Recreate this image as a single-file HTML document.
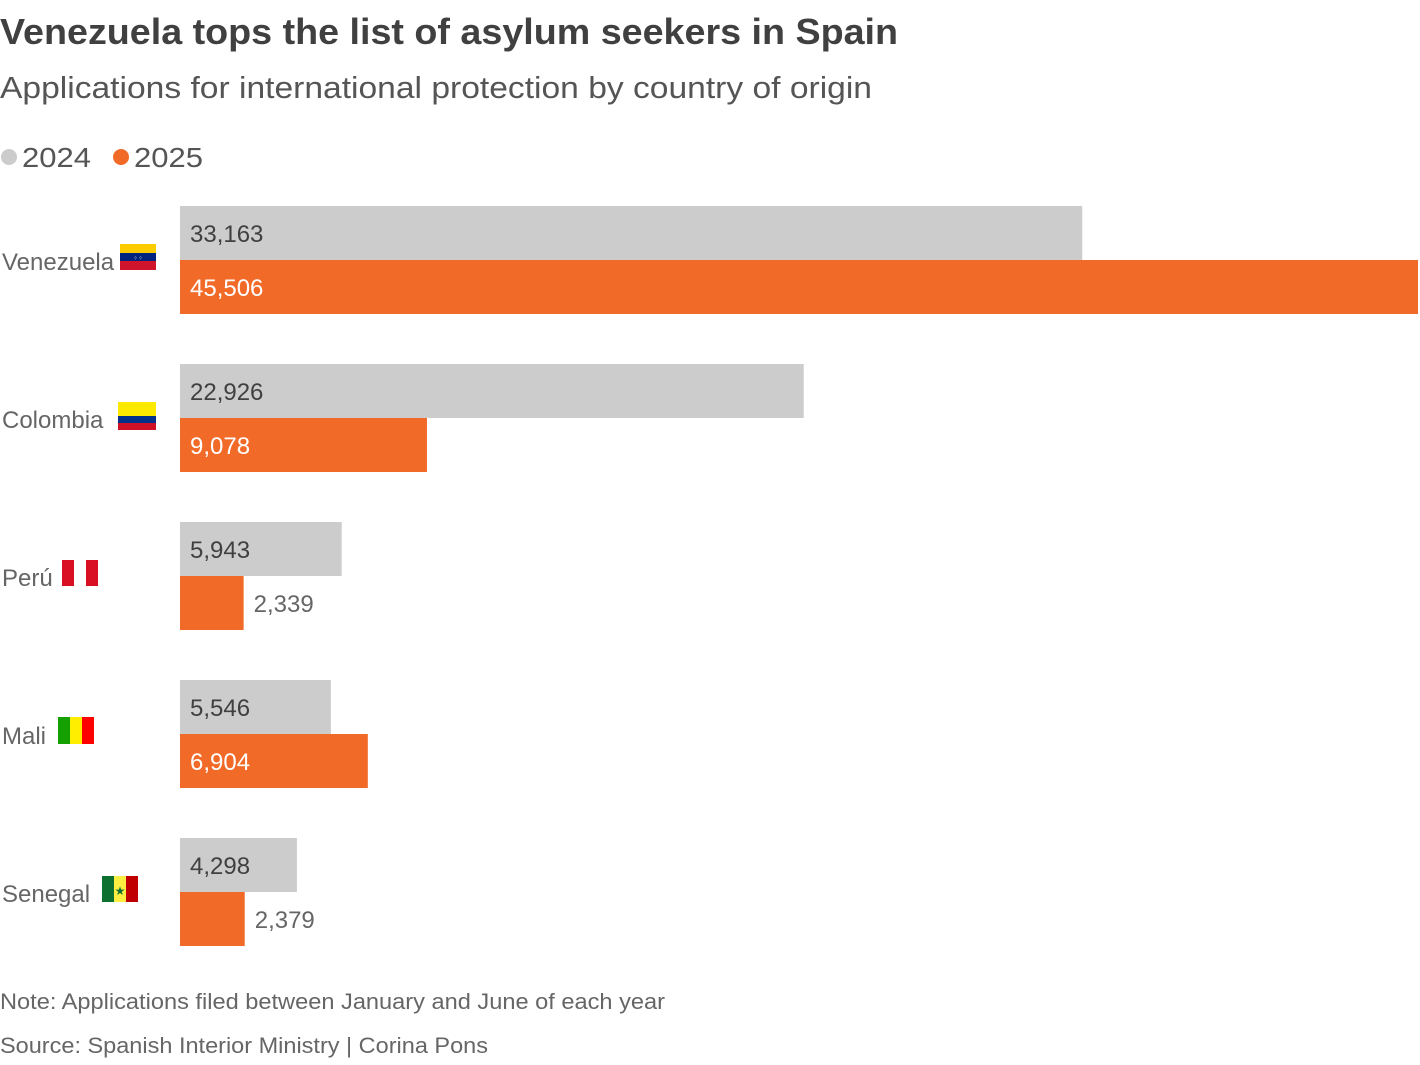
<!DOCTYPE html>
<html><head><meta charset="utf-8"><style>
body{margin:0;background:#fff;width:1420px;height:1060px;overflow:hidden;font-family:"Liberation Sans",sans-serif;}
svg text{font-family:"Liberation Sans",sans-serif;}
</style></head><body>
<svg id="c" width="1420" height="1060">
<text x="0" y="44" font-size="36" font-weight="bold" fill="#404040" textLength="898" lengthAdjust="spacingAndGlyphs">Venezuela tops the list of asylum seekers in Spain</text>
<text x="0" y="98" font-size="31" fill="#555" textLength="872" lengthAdjust="spacingAndGlyphs">Applications for international protection by country of origin</text>
<g>
<circle cx="9" cy="157" r="8" fill="#cccccc"/>
<text x="22" y="167" font-size="28" fill="#555" textLength="69" lengthAdjust="spacingAndGlyphs">2024</text>
<circle cx="121" cy="157" r="8" fill="#f26a28"/>
<text x="134" y="167" font-size="28" fill="#555" textLength="69" lengthAdjust="spacingAndGlyphs">2025</text>
</g>
<g id="bars"></g>
<g>
<g><rect x="120" y="244" width="36" height="9" fill="#fccc00"/><rect x="120" y="253" width="36" height="8" fill="#00247d"/><rect x="120" y="261" width="36" height="9" fill="#cf142b"/><text x="138" y="260" font-size="6" fill="#fff" text-anchor="middle">⁘⁘</text></g>
<g><rect x="118" y="402" width="38" height="14" fill="#fde800"/><rect x="118" y="416" width="38" height="7" fill="#00308a"/><rect x="118" y="423" width="38" height="7" fill="#ce1126"/></g>
<g><rect x="62" y="560" width="12" height="26" fill="#d91023"/><rect x="74" y="560" width="12" height="26" fill="#fff"/><rect x="86" y="560" width="12" height="26" fill="#d91023"/></g>
<g><rect x="58" y="717" width="12" height="27" fill="#14a000"/><rect x="70" y="717" width="12" height="27" fill="#ffee00"/><rect x="82" y="717" width="12" height="27" fill="#ff0000"/></g>
<g><rect x="102" y="876" width="12" height="26" fill="#0e7030"/><rect x="114" y="876" width="12" height="26" fill="#fdef42"/><rect x="126" y="876" width="12" height="26" fill="#c00000"/><text x="120" y="895" font-size="12" fill="#0e7030" text-anchor="middle">★</text></g>
</g>
<text x="0" y="1009" font-size="22" fill="#666" textLength="665" lengthAdjust="spacingAndGlyphs">Note: Applications filed between January and June of each year</text>
<text x="0" y="1053" font-size="22" fill="#666" textLength="488" lengthAdjust="spacingAndGlyphs">Source: Spanish Interior Ministry | Corina Pons</text>
</svg>
<script>
const countries=["Venezuela","Colombia","Perú","Mali","Senegal"];
const values2024=[33163,22926,5943,5546,4298];
const values2025=[45506,9078,2339,6904,2379];
const labels2024=["33,163","22,926","5,943","5,546","4,298"];
const labels2025=["45,506","9,078","2,339","6,904","2,379"];
const x0=180,xMax=1418;
const maxV=Math.max(...values2024,...values2025);
const xs=v=>(xMax-x0)*v/maxV;
const ys=i=>206+i*158;
const ns="http://www.w3.org/2000/svg";
const g=document.getElementById('bars');
function mk(t,a){const e=document.createElementNS(ns,t);for(const k in a)e.setAttribute(k,a[k]);g.appendChild(e);return e;}
countries.forEach((c,i)=>{
  const y=ys(i);
  const lab=mk('text',{x:2,y:y+64,'font-size':24,fill:'#666'});lab.textContent=c;
  
  
  [[values2024[i],labels2024[i],'#cccccc','#404040',0],[values2025[i],labels2025[i],'#f26a28','#fff',54]].forEach(([v,l,col,tc,off],k)=>{
    const w=xs(v);
    const r=mk('rect',{x:x0,y:y+off,width:w,height:54,fill:col});
    
    
    const inside=w>80;
    const t=mk('text',{x:inside?x0+10:x0+w+10,y:y+off+36,'font-size':24,fill:inside?tc:'#666'});
    t.textContent=l;
    
    
  });
});
</script>
</body></html>
